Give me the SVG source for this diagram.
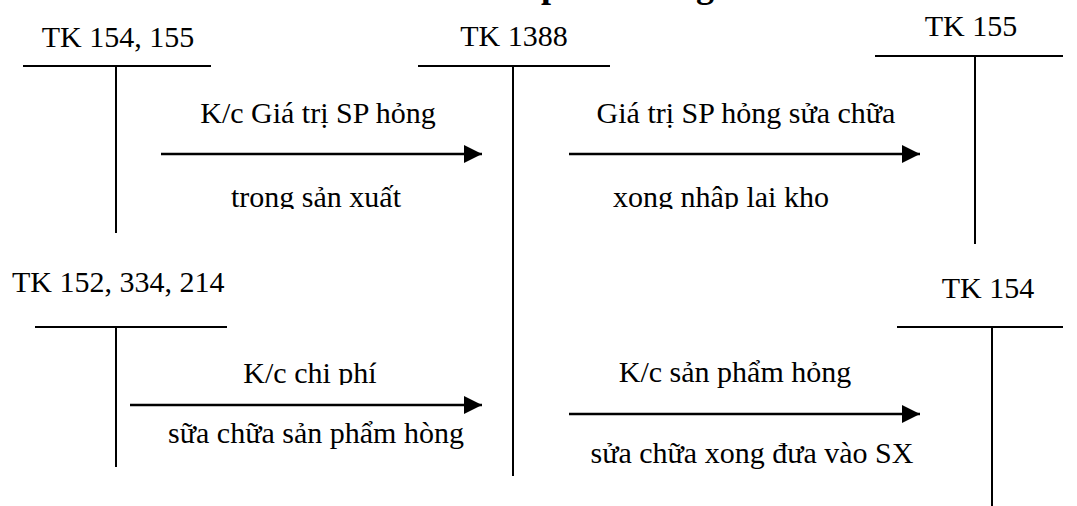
<svg xmlns="http://www.w3.org/2000/svg" width="1077" height="506" viewBox="0 0 1077 506">
<style>
  text { font-family: "Liberation Serif", "Times New Roman", serif; fill: #000; }
  .lbl { font-size: 30px; }
  .mid { text-anchor: middle; }
  .title { font-size: 36px; font-weight: bold; text-anchor: end; }
  .t { stroke: #000; stroke-width: 2; fill: none; }
  .arrow { stroke: #000; stroke-width: 2.5; fill: none; marker-end: url(#ah); }
</style>
<defs>
  <marker id="ah" markerUnits="userSpaceOnUse" markerWidth="18" markerHeight="18" viewBox="0 0 16 16" refX="16" refY="8" orient="auto">
    <path d="M0,0 L16,8 L0,16 Z" fill="#000"/>
  </marker>
  <clipPath id="clipRow1"><rect x="0" y="160" width="1077" height="49"/></clipPath>
  <clipPath id="clipRow2"><rect x="0" y="340" width="1077" height="45"/></clipPath>
</defs>
<rect width="1077" height="506" fill="#fff"/>

<text class="title" x="714" y="-3">Sơ đồ kế toán sản phẩm hỏng</text>

<g id="tk154-155">
  <text class="lbl mid" x="118" y="47">TK 154, 155</text>
  <line class="t" x1="23" y1="66" x2="211" y2="66"/>
  <line class="t" x1="116" y1="66" x2="116" y2="233"/>
</g>
<g id="tk1388">
  <text class="lbl mid" x="514" y="46">TK 1388</text>
  <line class="t" x1="418" y1="66" x2="610" y2="66"/>
  <line class="t" x1="513" y1="66" x2="513" y2="476"/>
</g>
<g id="tk155">
  <text class="lbl mid" x="971" y="36">TK 155</text>
  <line class="t" x1="875" y1="56" x2="1063" y2="56"/>
  <line class="t" x1="975" y1="56" x2="975" y2="244"/>
</g>
<g id="tk152-334-214">
  <text class="lbl" x="12" y="292">TK 152, 334, 214</text>
  <line class="t" x1="35" y1="327" x2="227" y2="327"/>
  <line class="t" x1="116" y1="327" x2="116" y2="467"/>
</g>
<g id="tk154">
  <text class="lbl mid" x="988" y="298">TK 154</text>
  <line class="t" x1="897" y1="327" x2="1063" y2="327"/>
  <line class="t" x1="992" y1="327" x2="992" y2="506"/>
</g>

<g id="connectors">
  <line class="arrow" x1="161" y1="154" x2="482" y2="154"/>
  <line class="arrow" x1="569" y1="154" x2="920" y2="154"/>
  <line class="arrow" x1="130" y1="405" x2="482" y2="405"/>
  <line class="arrow" x1="569" y1="414" x2="920" y2="414"/>
</g>

<g id="labels">
  <text class="lbl mid" x="318" y="123">K/c Giá trị SP hỏng</text>
  <text class="lbl mid" x="316" y="207" clip-path="url(#clipRow1)">trong sản xuất</text>
  <text class="lbl mid" x="746" y="123">Giá trị SP hỏng sửa chữa</text>
  <text class="lbl mid" x="721" y="207" clip-path="url(#clipRow1)">xong nhập lại kho</text>
  <text class="lbl mid" x="310" y="383" clip-path="url(#clipRow2)">K/c chi phí</text>
  <text class="lbl mid" x="316" y="443">sữa chữa sản phẩm hòng</text>
  <text class="lbl mid" x="735" y="382">K/c sản phẩm hỏng</text>
  <text class="lbl mid" x="752" y="463">sửa chữa xong đưa vào SX</text>
</g>
</svg>
